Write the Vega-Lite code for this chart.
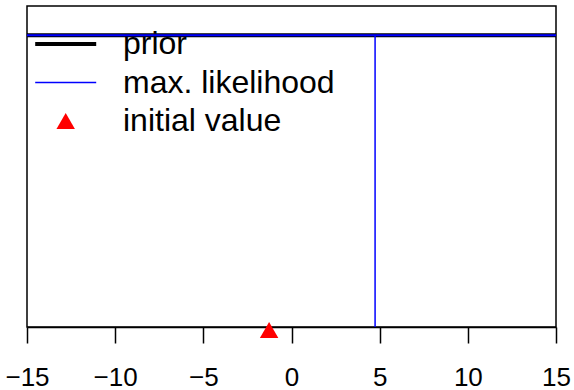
{
  "$schema": "https://vega.github.io/schema/vega-lite/v6.json",
  "width": 529,
  "height": 321,
  "autosize": {"type": "none"},
  "padding": {"left": 27, "top": 6, "right": 18, "bottom": 63},
  "background": "white",
  "config": {
    "view": {"stroke": "black", "strokeWidth": 1.5},
    "font": "Liberation Sans"
  },
  "datasets": {
    "prior": [{"series": "prior", "x": -15, "x2": 15, "y": 1}],
    "mlh": [{"series": "max. likelihood", "x": -15, "x2": 15, "y": 1}],
    "mlv": [{"series": "max. likelihood", "x": 4.74, "y": 0, "y2": 1}],
    "init": [{"series": "initial value", "x": -1.27, "y": -0.01}]
  },
  "layer": [
    {
      "data": {"name": "prior"},
      "mark": {"type": "rule", "strokeWidth": 4},
      "encoding": {
        "x": {"field": "x", "type": "quantitative", "scale": {"domain": [-15, 15], "nice": false, "zero": false},
          "axis": {"values": [-15, -10, -5, 0, 5, 10, 15], "title": null, "grid": false, "domainColor": "black", "domainWidth": 1.5, "tickColor": "black", "tickWidth": 1.5, "tickSize": 16, "labelFontSize": 26, "labelColor": "black", "labelPadding": 21, "labelFlush": false, "labelOverlap": false, "labelFont": "Liberation Sans"}},
        "x2": {"field": "x2"},
        "y": {"field": "y", "type": "quantitative", "scale": {"domain": [0, 1.1], "nice": false, "zero": false}, "axis": null},
        "color": {
          "field": "series", "type": "nominal",
          "scale": {"domain": ["prior", "max. likelihood", "initial value"], "range": ["#000000", "#0000FF", "#FF0000"]},
          "legend": {
            "orient": "none", "legendX": 22.7, "legendY": 22, "title": null, "padding": 0,
            "labelFontSize": 32, "labelColor": "black", "labelFont": "Liberation Sans", "labelLimit": 0,
            "rowPadding": 6.5, "symbolType": "stroke", "symbolSize": 3721,
            "symbolStrokeWidth": 2, "labelOffset": 41.3,
            "encode": {
              "symbols": {
                "update": {
                  "shape": {"signal": "datum.value === 'initial value' ? 'triangle-up' : 'stroke'"},
                  "size": {"signal": "datum.value === 'initial value' ? 340 : 3721"},
                  "strokeWidth": {"signal": "datum.value === 'prior' ? 4 : datum.value === 'max. likelihood' ? 1.5 : 0"},
                  "fill": {"signal": "datum.value === 'initial value' ? '#FF0000' : 'transparent'"},
                  "stroke": {"signal": "datum.value === 'prior' ? '#000000' : datum.value === 'max. likelihood' ? '#0000FF' : '#FF0000'"},
                  "opacity": {"value": 1}
                }
              }
            }
          }
        }
      }
    },
    {
      "data": {"name": "mlh"},
      "mark": {"type": "rule", "strokeWidth": 2},
      "encoding": {
        "x": {"field": "x", "type": "quantitative"},
        "x2": {"field": "x2"},
        "y": {"field": "y", "type": "quantitative"},
        "color": {"field": "series", "type": "nominal"}
      }
    },
    {
      "data": {"name": "mlv"},
      "mark": {"type": "rule", "strokeWidth": 1.5},
      "encoding": {
        "x": {"field": "x", "type": "quantitative"},
        "y": {"field": "y", "type": "quantitative"},
        "y2": {"field": "y2"},
        "color": {"field": "series", "type": "nominal"}
      }
    },
    {
      "data": {"name": "init"},
      "mark": {"type": "point", "shape": "triangle-up", "filled": true, "size": 340, "opacity": 1, "clip": false},
      "encoding": {
        "x": {"field": "x", "type": "quantitative"},
        "y": {"field": "y", "type": "quantitative"},
        "color": {"field": "series", "type": "nominal"}
      }
    }
  ]
}
